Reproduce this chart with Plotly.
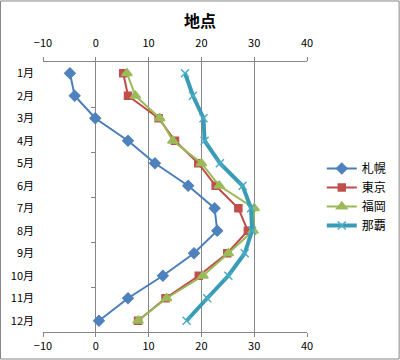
import plotly.graph_objects as go

months = ["1月", "2月", "3月", "4月", "5月", "6月", "7月", "8月", "9月", "10月", "11月", "12月"]
month_idx = list(range(1, 13))
sapporo = [-4.9, -4.0, -0.1, 6.1, 11.2, 17.5, 22.5, 23.0, 18.6, 12.7, 6.1, 0.6]
tokyo = [5.2, 6.1, 11.9, 15.0, 19.4, 22.7, 27.0, 28.8, 24.9, 19.5, 13.2, 8.0]
fukuoka = [5.9, 7.5, 12.1, 14.6, 20.0, 23.4, 30.0, 29.8, 25.1, 20.3, 13.4, 8.0]
naha = [16.9, 18.4, 20.4, 20.6, 23.5, 27.8, 29.4, 29.6, 28.2, 25.1, 21.1, 17.2]
x_ticks = [-10, 0, 10, 20, 30, 40]
minor_y_ticks = [2.5, 4.5, 6.5, 8.5, 10.5]

FONT = "Noto Sans CJK JP"
GRID = "#868686"

fig = go.Figure()

series = [
    ("札幌", sapporo, "#4A7EBB", "#4F81BD", "diamond", 8, 2),
    ("東京", tokyo, "#BE4B48", "#C0504D", "square", 7, 2),
    ("福岡", fukuoka, "#98B954", "#9BBB59", "triangle-up", 9, 2),
    ("那覇", naha, "#3A9BB5", "#4BACC6", "x-thin", 8, 4),
]
for name, vals, lc, mc, sym, ms, lw in series:
    fig.add_trace(go.Scatter(
        x=vals, y=month_idx, name=name, mode="lines+markers",
        line=dict(color=lc, width=lw),
        marker=dict(symbol=sym, size=ms, color=mc,
                    line=dict(color=mc, width=1.5)),
        xaxis="x", yaxis="y",
    ))

fig.update_layout(
    width=400, height=360,
    margin=dict(l=43, r=93, t=62, b=28, autoexpand=False),
    paper_bgcolor="white", plot_bgcolor="white",
    font=dict(family=FONT, size=11, color="black"),
    title=dict(text="<b>地点</b>", x=0.5, xanchor="center", y=0.94, yanchor="middle",
               font=dict(family=FONT, size=16, color="black")),
    xaxis=dict(range=[-10, 40], tickvals=x_ticks, showgrid=True, gridcolor=GRID, gridwidth=1,
               zeroline=False, showline=True, linecolor=GRID, linewidth=1,
               ticks="outside", ticklen=4, tickcolor=GRID, side="bottom", automargin=False,
               tickfont=dict(family=FONT, size=11), ticklabelstandoff=0),
    xaxis2=dict(range=[-10, 40], tickvals=x_ticks, matches="x", overlaying="x", anchor="y",
                side="top", showgrid=False, zeroline=False, showline=True, linecolor=GRID,
                linewidth=1, ticks="outside", ticklen=4, tickcolor=GRID, automargin=False,
                tickfont=dict(family=FONT, size=11), ticklabelstandoff=6),
    yaxis=dict(range=[12.5, 0.5], tickvals=month_idx, ticktext=months, showgrid=False,
               zeroline=False, showline=False, ticks="", ticklabelstandoff=8, automargin=False,
               tickfont=dict(family=FONT, size=11)),
    yaxis2=dict(range=[12.5, 0.5], tickvals=minor_y_ticks, overlaying="y", anchor="free",
                position=0.2, side="left", showticklabels=False, showgrid=False, automargin=False,
                zeroline=False, showline=False, ticks="outside", ticklen=5, tickcolor=GRID),
    legend=dict(x=1.056, xanchor="left", y=0.5, yanchor="middle",
                font=dict(family=FONT, size=12), bgcolor="rgba(0,0,0,0)",
                itemwidth=30, tracegroupgap=4),
    showlegend=True,
    shapes=[dict(type="rect", xref="paper", yref="paper",
                 x0=-0.161, x1=1.349, y0=-0.1, y1=1.226,
                 line=dict(color=GRID, width=1), fillcolor="rgba(0,0,0,0)", layer="below")],
)

fig.add_trace(go.Scatter(x=[None], y=[None], xaxis="x2", yaxis="y2", showlegend=False,
                         hoverinfo="skip"))

fig.write_html("out.html", config={"displayModeBar": False},
               post_script="document.body.style.margin='0';document.body.style.overflow='hidden';")
